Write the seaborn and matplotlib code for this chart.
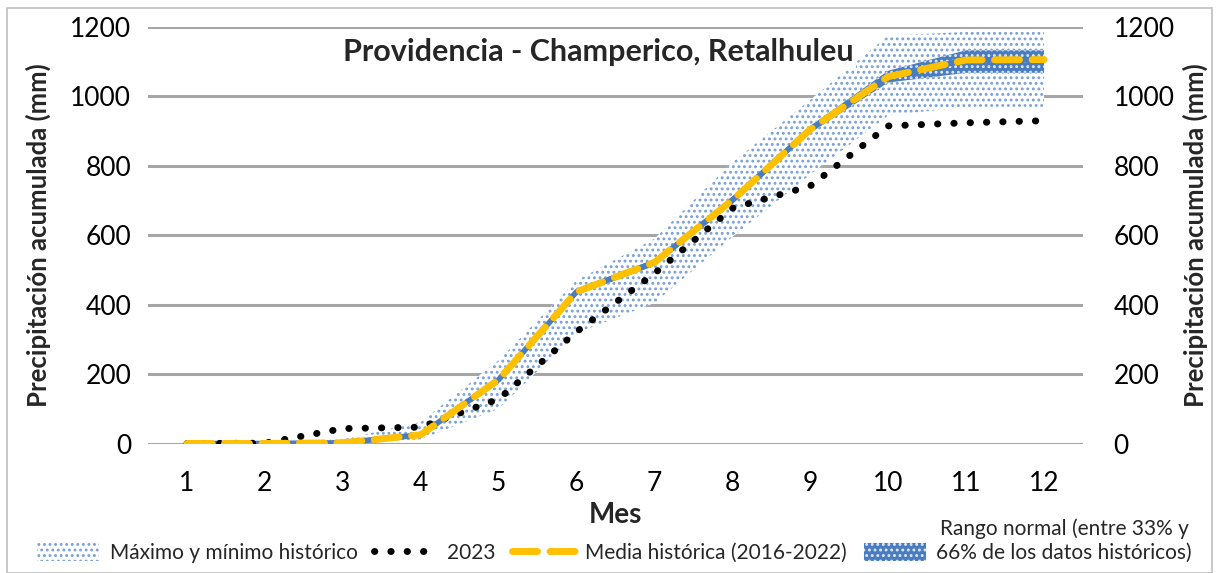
import numpy as np
import pandas as pd
import matplotlib
matplotlib.use("Agg")
import matplotlib.pyplot as plt
import seaborn as sns
from matplotlib.patches import Patch
from matplotlib.lines import Line2D

meses = [1, 2, 3, 4, 5, 6, 7, 8, 9, 10, 11, 12]
maximo = [2, 4, 12, 62, 240, 470, 590, 810, 990, 1175, 1186, 1186]
minimo = [0, 0, 0, 12, 100, 318, 405, 595, 775, 945, 970, 970]
p33 = [0, 0, 0, 19, 176, 428, 512, 690, 895, 1040, 1068, 1068]
p66 = [3, 3, 5, 31, 192, 446, 530, 712, 915, 1074, 1133, 1133]
media = [0, 0, 2, 25, 184, 437, 522, 701, 905, 1057, 1105, 1106]
datos_2023 = [0, 1, 43, 47, 128, 322, 490, 678, 742, 915, 924, 930]

df = pd.DataFrame({"Mes": meses, "2023": datos_2023, "Media": media})

sns.set_theme(style="white")
plt.rcParams['font.family'] = ['Lato', 'DejaVu Sans']
plt.rcParams['hatch.linewidth'] = 1.3

W, H = 1219, 573
fig = plt.figure(figsize=(W / 100, H / 100), dpi=100)
ax = fig.add_axes([148 / W, 1 - 443.5 / H, (1083 - 148) / W, (443.5 - 27) / H])

grid_c = "#a6a6a6"
ax.set_ylim(0, 1200)
ax.set_xlim(0.5, 12.5)
ax.set_yticks(range(0, 1201, 200))
ax.set_xticks(meses)
ax.set_xticklabels([str(m) for m in meses])
for yv in range(0, 1201, 200):
    ax.axhline(yv, color=grid_c, lw=2.2, zorder=0)

ax.fill_between(meses, minimo, maximo, facecolor="white", edgecolor="#77a0d8",
                hatch="...", linewidth=0, zorder=1)
ax.fill_between(meses, p33, p66, facecolor="#4a7cc0", edgecolor="#dfe8f6",
                hatch="...", linewidth=0, zorder=2)
ax.plot(meses, media, color="#4a7cc0", lw=4, zorder=2)

dot_style = (0, (0.05, 2.3))
dash_style = (0, (3.6, 1.8))
sns.lineplot(data=df, x="Mes", y="2023", ax=ax, color="black", lw=5,
             linestyle=dot_style, dash_capstyle="round", zorder=3)
sns.lineplot(data=df, x="Mes", y="Media", ax=ax, color="#FFC000", lw=5,
             linestyle=dash_style, dash_capstyle="round", zorder=4)

for s in ax.spines.values():
    s.set_visible(False)
ax.tick_params(axis="x", length=0, labelsize=19, colors="black", pad=20)
ax.tick_params(axis="y", length=0, labelsize=19, colors="black", pad=12)
ax.set_xlabel("Mes", fontsize=20, fontweight="bold", labelpad=4)
ax.set_ylabel("Precipitación acumulada (mm)", fontsize=18.5, fontweight="bold", labelpad=14)
ax.text(0.482, 0.94, "Providencia - Champerico, Retalhuleu", transform=ax.transAxes,
        ha="center", va="center", fontsize=22, fontweight="bold", zorder=6,
        bbox=dict(facecolor="white", edgecolor="none", pad=1))

ax2 = ax.twinx()
ax2.set_ylim(0, 1200)
ax2.set_yticks(range(0, 1201, 200))
for s in ax2.spines.values():
    s.set_visible(False)
ax2.tick_params(axis="y", length=0, labelsize=19, colors="black", pad=22)
ax2.set_ylabel("Precipitación acumulada (mm)", fontsize=18.5, fontweight="bold", labelpad=6)
ax2.grid(False)
ax.grid(False)

handles = [
    Patch(facecolor="white", edgecolor="#77a0d8", hatch="...", linewidth=0),
    Line2D([0], [0], color="black", lw=5, linestyle=dot_style, dash_capstyle="round"),
    Line2D([0], [0], color="#FFC000", lw=5, linestyle=dash_style, dash_capstyle="round"),
    Patch(facecolor="#4a7cc0", edgecolor="#dfe8f6", hatch="...", linewidth=0),
]
labels = ["Máximo y mínimo histórico", "2023", "Media histórica (2016-2022)",
          "66% de los datos históricos)"]
leg = fig.legend(handles, labels, loc="center", bbox_to_anchor=(0.504, 1 - 553 / H), ncol=4,
                 frameon=False, fontsize=15, handlelength=3.0, handleheight=1.0,
                 columnspacing=0.8, handletextpad=0.5, borderpad=0)

fig.canvas.draw()
last = leg.get_texts()[-1]
bb = last.get_window_extent()
fig.text((bb.x0 + bb.x1) / 2 / W, (bb.y1 + 4) / H, "Rango normal (entre 33% y",
         ha="center", va="bottom", fontsize=15)

fig.patches.append(plt.Rectangle((7 / W, 0.0), 1 - 14 / W, 1 - 8 / H, transform=fig.transFigure,
                                 fill=False, edgecolor="#bfbfbf", lw=1.2))
fig.savefig("out.png", dpi=100)
